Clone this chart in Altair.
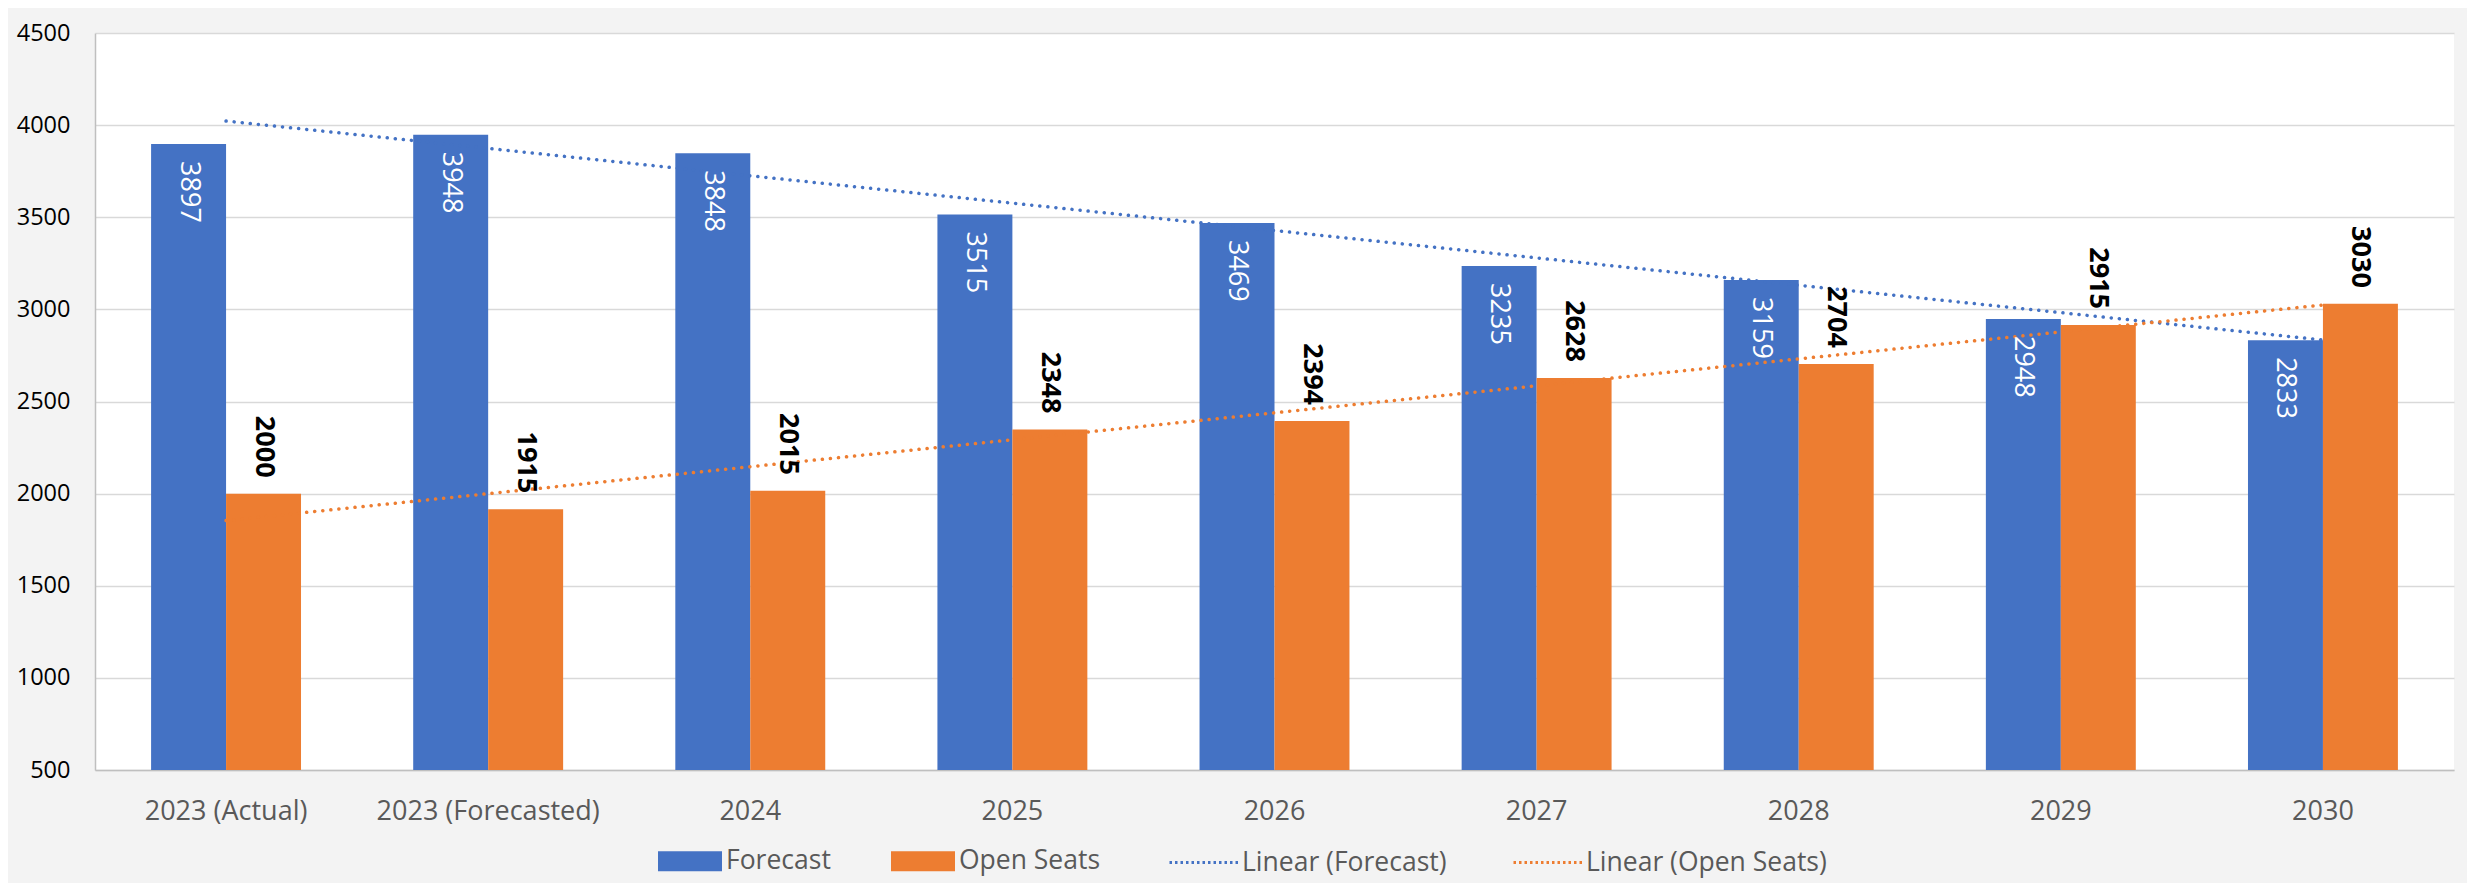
import altair as alt
import pandas as pd

categories = ["2023 (Actual)", "2023 (Forecasted)", "2024", "2025", "2026",
              "2027", "2028", "2029", "2030"]
forecast = [3897, 3948, 3848, 3515, 3469, 3235, 3159, 2948, 2833]
open_seats = [2000, 1915, 2015, 2348, 2394, 2628, 2704, 2915, 3030]
series_names = ["Forecast", "Open Seats"]
trend_names = ["Linear (Forecast)", "Linear (Open Seats)"]
y_ticks = [500, 1000, 1500, 2000, 2500, 3000, 3500, 4000, 4500]

rows = []
for i, c in enumerate(categories):
    rows.append({"category": c, "idx": i, "series": series_names[0], "value": forecast[i]})
    rows.append({"category": c, "idx": i, "series": series_names[1], "value": open_seats[i]})
df = pd.DataFrame(rows)

FONT = "Open Sans"
BLUE, ORANGE = "#4472C4", "#ED7D31"

RECT = "M-1.6,-0.5H1.6V0.5H-1.6Z"
LINE = "M-1.75,0H1.75"
common_legend = dict(
    orient="none", direction="horizontal", title=None,
    labelFont=FONT, labelFontSize=26.5, labelColor="#595959", labelOffset=16,
    labelLimit=0, columnPadding=60, symbolSize=1600, legendY=808,
)
fill_legend = alt.Legend(legendX=575, symbolType=RECT, symbolStrokeWidth=0,
                         **common_legend)
stroke_legend = alt.Legend(legendX=1088, symbolType=LINE, symbolStrokeWidth=3,
                           symbolDash=[2.5, 3], symbolFillColor="transparent",
                           **common_legend)

base = alt.Chart(df)

x_enc = alt.X(
    "category:N", sort=categories,
    scale=alt.Scale(paddingInner=0.428, paddingOuter=0.214),
    axis=alt.Axis(title=None, labelAngle=0, labelFont=FONT, labelFontSize=27,
                  labelColor="#595959", labelPadding=28, labelLimit=0, ticks=False,
                  domainColor="#bfbfbf", domainWidth=1.5, grid=False),
)
x_plain = alt.X("category:N", sort=categories)
xoff = alt.XOffset("series:N", sort=series_names,
                   scale=alt.Scale(paddingInner=0, paddingOuter=0))
y_enc = alt.Y(
    "value:Q", scale=alt.Scale(domain=[500, 4500], zero=False, nice=False),
    axis=alt.Axis(title=None, values=y_ticks, format="d", labelFont=FONT,
                  labelFontSize=23.5, labelColor="#000000", labelPadding=25,
                  ticks=False, gridColor="#d9d9d9", gridWidth=1.5,
                  domainColor="#bfbfbf", domainWidth=1.5),
)

bars = base.mark_bar().encode(
    x=x_enc, xOffset=xoff, y=y_enc, y2=alt.datum(500),
    fill=alt.Fill("series:N", scale=alt.Scale(domain=series_names, range=[BLUE, ORANGE]),
                  legend=fill_legend),
)

cat_expr = "[" + ",".join("'%s'" % c for c in categories) + "][round(datum.idx)]"
trend = base.transform_regression(
    "idx", "value", groupby=["series"], method="linear"
).transform_calculate(
    category=cat_expr, trend="'Linear (' + datum.series + ')'"
).mark_line(strokeDash=[0.1, 8], strokeCap="round", strokeWidth=3.5).encode(
    x=x_plain, y=alt.Y("value:Q"),
    stroke=alt.Stroke("trend:N", scale=alt.Scale(domain=trend_names, range=[BLUE, ORANGE]),
                      legend=stroke_legend),
    detail="trend:N",
)

blue_labels = base.transform_filter(
    alt.datum.series == series_names[0]
).mark_text(angle=90, align="left", baseline="middle", dx=17, color="white",
            font=FONT, fontSize=27).encode(
    x=x_plain, xOffset=xoff, y=alt.Y("value:Q"), text="value:Q"
)

orange_labels = base.transform_filter(
    alt.datum.series == series_names[1]
).mark_text(angle=90, align="right", baseline="middle", dx=-16, color="black",
            font=FONT, fontSize=27, fontWeight="bold").encode(
    x=x_plain, xOffset=xoff, y=alt.Y("value:Q"), text="value:Q"
)

chart = alt.layer(bars, trend, blue_labels, orange_labels).properties(
    width=2359, height=737,
    autosize=alt.AutoSizeParams(type="none"),
    padding={"left": 87, "top": 25, "right": 13, "bottom": 113},
    background="#f3f3f3",
).configure_view(fill="white", stroke=None)

chart.save("out.html", embed_options={"renderer": "svg", "actions": False})
